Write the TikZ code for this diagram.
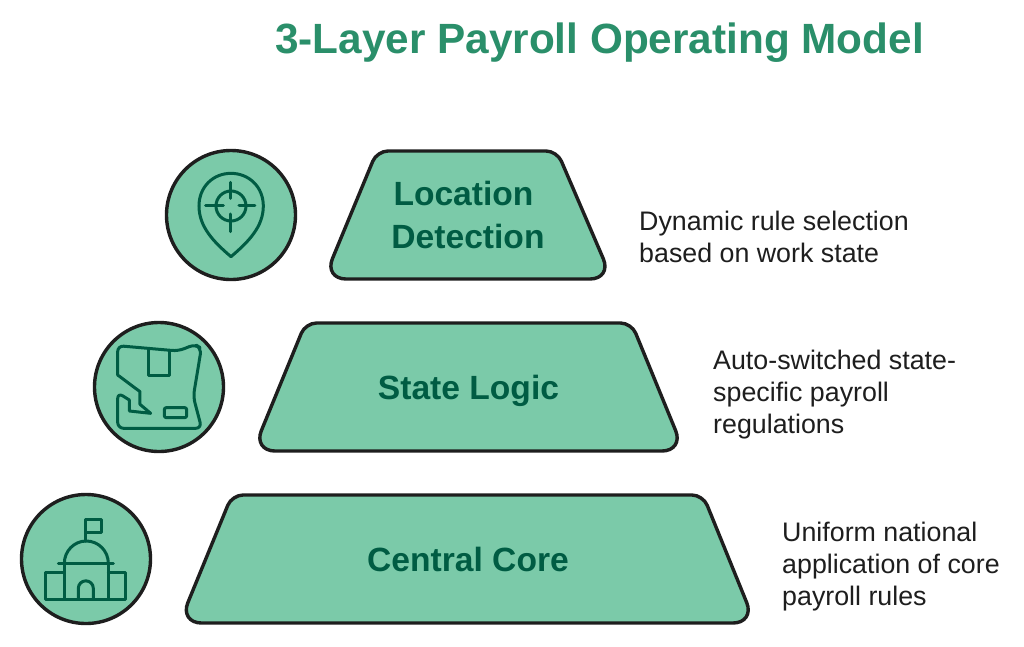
\documentclass[tikz,border=0pt]{standalone}
\usepackage{fontspec}
\setmainfont{Liberation Sans}
\definecolor{fillg}{HTML}{7BCAA9}
\definecolor{darkg}{HTML}{005C43}
\definecolor{titleg}{HTML}{2A8F6A}
\definecolor{ink}{HTML}{1E1E1E}
\tikzset{
 layer/.style={draw=ink,line width=3.4pt,fill=fillg,line join=round},
 disc/.style={draw=ink,line width=3.4pt,fill=fillg,circle,minimum size=129pt,inner sep=0pt},
 icon/.style={draw=darkg,line width=3pt,line join=round,line cap=round},
 layerlabel/.style={font=\fontsize{33.6}{43}\selectfont\bfseries,text=darkg,align=center,inner sep=0pt},
 note/.style={font=\fontsize{26.8}{32}\selectfont,text=ink,align=left,anchor=west,inner sep=0pt},
 zoomA/.style={shift={(150,140)},x=0.3333pt,y=-0.3333pt},
 zoomB/.style={shift={(85,315)},x=0.3333pt,y=-0.3333pt},
 zoomC/.style={shift={(10,485)},x=0.3333pt,y=-0.3333pt},
}
\begin{document}
\begin{tikzpicture}[x=1pt,y=-1pt]
\useasboundingbox (0,0) rectangle (1024,646);
\fill[white] (0,0) rectangle (1024,646);
\node[font=\fontsize{42.3}{50}\selectfont\bfseries,text=titleg,inner sep=0pt] (title) at (599.5,43) {3-Layer Payroll Operating Model};
% layers
\draw[layer] (467,151) [rounded corners=11pt] -- (557,151) [rounded corners=22pt] -- (612,279) -- (324,279) [rounded corners=11pt] -- (377,151) -- cycle;
\draw[layer] (468,323) [rounded corners=11pt] -- (631.5,323) [rounded corners=22pt] -- (684,451) -- (253,451) [rounded corners=11pt] -- (305.5,323) -- cycle;
\draw[layer] (467,495) [rounded corners=11pt] -- (703,495) [rounded corners=22pt] -- (755,623) -- (179.5,623) [rounded corners=11pt] -- (232,495) -- cycle;
\node[layerlabel] (l1) at (468,215) {Location\hspace*{9pt}\\Detection};
\node[layerlabel] (l2) at (468.5,391) {State Logic};
\node[layerlabel] (l3) at (468,559.5) {Central Core};
% discs
\node[disc] (d1) at (231,215) {};
\node[disc] (d2) at (159,387) {};
\node[disc] (d3) at (86,559) {};
% pin icon
\begin{scope}[zoomA]
\draw[icon] (243,350) .. controls (190,305) and (147,260) .. (147,198) .. controls (147,140) and (190,100) .. (243,100) .. controls (296,100) and (340,140) .. (340,198) .. controls (340,260) and (296,305) .. (243,350) -- cycle;
\draw[icon] (243,198) circle[radius=45];
\draw[icon] (167,198) -- (220,198) (267,198) -- (315,198) (243,127) -- (243,175) (243,222) -- (243,275);
\end{scope}
% map icon
\begin{scope}[zoomB]
\draw[icon,rounded corners=6pt] (98,180) -- (98,92) -- (280,108) -- (330,88) -- (349,100) -- (325,245) -- (350,340) -- (98,340) -- (98,233) [sharp corners] -- (133,255) -- (133,288) -- (197,295) -- (165,268) -- (165,230) -- cycle;
\draw[icon] (190,105) -- (190,180) -- (255,180) -- (255,107);
\draw[icon,rounded corners=2pt] (238,278) rectangle (305,308);
\end{scope}
% capitol icon
\begin{scope}[zoomC]
\draw[icon] (163,235) arc[start angle=180,end angle=360,x radius=66,y radius=67];
\draw[icon] (145,235) -- (310,235);
\draw[icon] (163,235) -- (163,342) (295,235) -- (295,342);
\draw[icon] (163,263) -- (108,263) -- (108,342) -- (348,342) -- (348,263) -- (295,263);
\draw[icon] (205,342) -- (205,310) arc[start angle=180,end angle=360,radius=22.5] -- (250,342);
\draw[icon] (228,168) -- (228,103) -- (275,103) -- (275,143) -- (228,143);
\end{scope}
% notes
\node[note] (n1) at (639,237) {Dynamic rule selection\\based on work state};
\node[note] (n2) at (713,395) {Auto-switched state-\\specific payroll\\regulations};
\node[note] (n3) at (782,567) {Uniform national\\application of core\\payroll rules};
\end{tikzpicture}
\end{document}
